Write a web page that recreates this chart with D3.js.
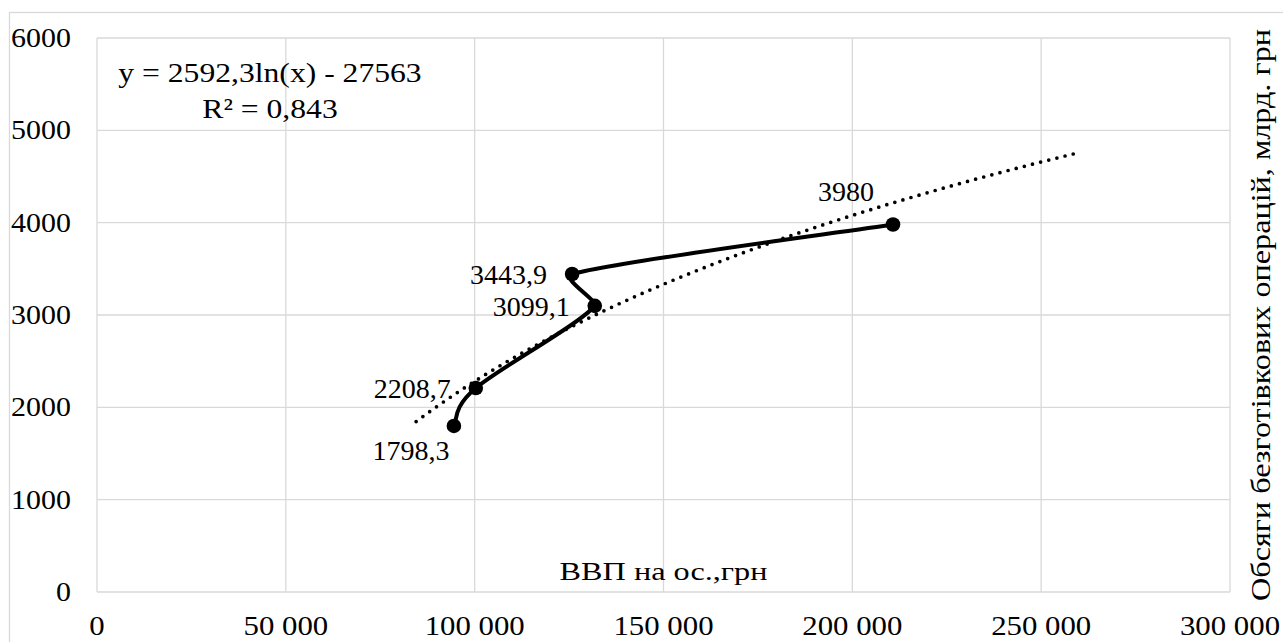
<!DOCTYPE html>
<html>
<head>
<meta charset="utf-8">
<script src="https://cdn.jsdelivr.net/npm/d3@7"></script>
<style>
  body { margin: 0; background: #fff; }
  text { font-family: "Liberation Serif", "Times New Roman", serif; fill: #000; }
</style>
</head>
<body>
<svg id="chart"></svg>
<script>
// values
var gdpPerCapita = [94500, 100300, 131800, 125800, 210770];
var cashlessVolume = [1798.3, 2208.7, 3099.1, 3443.9, 3980];
var pointLabels = ["1798,3", "2208,7", "3099,1", "3443,9", "3980"];
var labelSide = ["below-left", "left", "left", "left", "above-left"];
var xTicks = [0, 50000, 100000, 150000, 200000, 250000, 300000];
var yTicks = [0, 1000, 2000, 3000, 4000, 5000, 6000];
// logarithmic trend shown on the chart
var trendCoef = 2592.3, trendConst = -27563;
var trendFrom = 84500, trendTo = 260000;
var equationLines = ["y = 2592,3ln(x) - 27563", "R² = 0,843"];
var xTitle = "ВВП на ос.,грн";
var yTitle = "Обсяги безготівкових операцій, млрд. грн";

// text set in a slightly wide face, like the original
function wideText(sel, size, stretch) {
  sel.attr("font-size", size + "px")
     .attr("transform", function() {
       var t = d3.select(this);
       return "translate(" + t.attr("x") + "," + t.attr("y") + ") scale(" + stretch + ",1)";
     })
     .attr("x", 0)
     .attr("y", 0);
}

// spreadsheet-style smoothed line: bezier arms of 1/6 of the neighbour chord,
// shortened when a short segment sits between long ones
function smoothPath(p) {
  var path = d3.path();
  var dist = (a, b) => Math.hypot(b[0] - a[0], b[1] - a[1]);
  path.moveTo(p[0][0], p[0][1]);
  for (var i = 0; i < p.length - 1; i++) {
    var p0 = p[Math.max(i - 1, 0)], p1 = p[i], p2 = p[i + 1], p3 = p[Math.min(i + 2, p.length - 1)];
    var a = [(p2[0] - p0[0]) / 6, (p2[1] - p0[1]) / 6];
    var b = [(p3[0] - p1[0]) / 6, (p3[1] - p1[1]) / 6];
    var chord = dist(p1, p2);
    var sum = Math.hypot(a[0], a[1]) + Math.hypot(b[0], b[1]);
    var k = sum > chord ? Math.pow(chord / sum, 2) : 1;
    path.bezierCurveTo(p1[0] + a[0] * k, p1[1] + a[1] * k,
                       p2[0] - b[0] * k, p2[1] - b[1] * k,
                       p2[0], p2[1]);
  }
  return path.toString();
}

function drawChart(width, height) {
  var svg = d3.select("#chart")
              .attr("width", width)
              .attr("height", height);

  var left = 97, right = 1230, top = 38, bottom = 592;
  var grid = "#d9d9d9";

  var x = d3.scaleLinear().domain([0, 300000]).range([left, right]);
  var y = d3.scaleLinear().domain([0, 6000]).range([bottom, top]);
  var fmt = d3.formatLocale({decimal: ",", thousands: " ", grouping: [3], currency: ["", ""]}).format(",d");

  // chart area border
  svg.append("rect")
      .attr("x", 9.5).attr("y", 12.5)
      .attr("width", width + 20).attr("height", height + 20)
      .attr("fill", "none")
      .attr("stroke", grid)
      .attr("stroke-width", 1.3);

  // grid lines
  svg.append("g")
      .selectAll("line")
      .data(xTicks)
      .enter()
      .append("line")
      .attr("x1", d => x(d)).attr("x2", d => x(d))
      .attr("y1", top).attr("y2", bottom)
      .attr("stroke", grid)
      .attr("stroke-width", 1.3);

  svg.append("g")
      .selectAll("line")
      .data(yTicks)
      .enter()
      .append("line")
      .attr("x1", left).attr("x2", right)
      .attr("y1", d => y(d)).attr("y2", d => y(d))
      .attr("stroke", grid)
      .attr("stroke-width", 1.3);

  // tick labels
  svg.append("g")
      .selectAll("text")
      .data(xTicks)
      .enter()
      .append("text")
      .attr("x", d => x(d))
      .attr("y", 635)
      .style("text-anchor", "middle")
      .text(d => fmt(d))
      .call(wideText, 28, 1.1);

  svg.append("g")
      .selectAll("text")
      .data(yTicks)
      .enter()
      .append("text")
      .attr("x", 71)
      .attr("y", d => y(d) + 9)
      .style("text-anchor", "end")
      .text(d => d)
      .call(wideText, 28, 1.07);

  // trend line
  var trendX = d3.range(trendFrom, trendTo, 1000).concat([trendTo]);
  var trendLine = d3.line()
                    .x(d => x(d))
                    .y(d => y(trendCoef * Math.log(d) + trendConst));
  svg.append("path")
      .attr("d", trendLine(trendX))
      .attr("fill", "none")
      .attr("stroke", "#000")
      .attr("stroke-width", 3.7)
      .attr("stroke-linecap", "round")
      .attr("stroke-dasharray", "0 8.4");

  // series line
  var pts = gdpPerCapita.map((d, i) => [d, cashlessVolume[i]]);
  svg.append("path")
      .attr("d", smoothPath(pts.map(d => [x(d[0]), y(d[1])])))
      .attr("fill", "none")
      .attr("stroke", "#000")
      .attr("stroke-width", 4);

  svg.append("g")
      .selectAll("circle")
      .data(pts)
      .enter()
      .append("circle")
      .attr("cx", d => x(d[0]))
      .attr("cy", d => y(d[1]))
      .attr("r", 7.3)
      .attr("fill", "#000");

  // data labels
  var offsets = {
    "left": {dx: -25, dy: 10, anchor: "end"},
    "below-left": {dx: -43, dy: 34, anchor: "middle"},
    "above-left": {dx: -47, dy: -24, anchor: "middle"}
  };
  svg.append("g")
      .selectAll("text")
      .data(pts)
      .enter()
      .append("text")
      .attr("x", (d, i) => x(d[0]) + offsets[labelSide[i]].dx)
      .attr("y", (d, i) => y(d[1]) + offsets[labelSide[i]].dy)
      .style("text-anchor", (d, i) => offsets[labelSide[i]].anchor)
      .text((d, i) => pointLabels[i])
      .call(wideText, 28, 1.0);

  // trend equation
  svg.append("g")
      .selectAll("text")
      .data(equationLines)
      .enter()
      .append("text")
      .attr("x", 270)
      .attr("y", (d, i) => 82 + i * 36)
      .style("text-anchor", "middle")
      .text(d => d)
      .call(wideText, 28, 1.13);

  // axis titles
  svg.append("text")
      .attr("x", (left + right) / 2)
      .attr("y", 580)
      .style("text-anchor", "middle")
      .text(xTitle)
      .call(wideText, 26, 1.24);

  svg.append("text")
      .attr("transform", "translate(1270," + (top + bottom) / 2 + ") rotate(-90) scale(1.15,1)")
      .attr("font-size", "28px")
      .style("text-anchor", "middle")
      .text(yTitle);
}

drawChart(1283, 642);
</script>
</body>
</html>
